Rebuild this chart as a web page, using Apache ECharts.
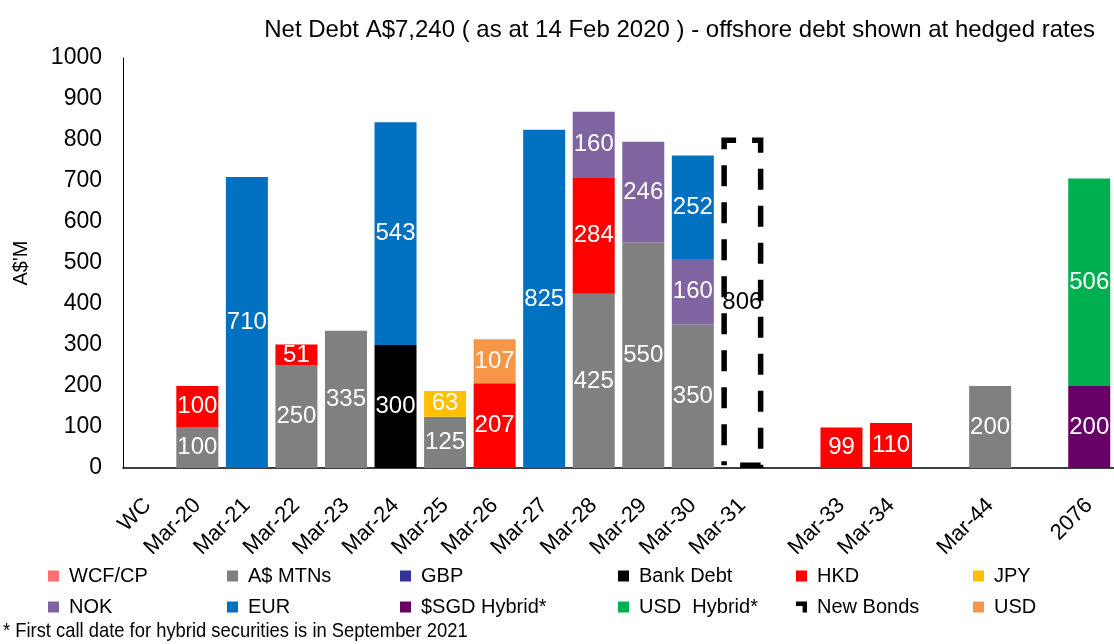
<!DOCTYPE html>
<html lang="en">
<head>
    <meta charset="UTF-8"/>
    <title>net debt maturity</title>
    <script src="https://cdn.jsdelivr.net/npm/echarts@6/dist/echarts.min.js"></script>
</head>
<body style="margin:0">
<div id="main" style="width:1114px;height:644px;"></div>
<script type="text/javascript">
    // categories (blank ones are the gaps in the maturity profile)
    var categories = ['WC', 'Mar-20', 'Mar-21', 'Mar-22', 'Mar-23', 'Mar-24', 'Mar-25', 'Mar-26', 'Mar-27', 'Mar-28',
        'Mar-29', 'Mar-30', 'Mar-31', ' ', 'Mar-33', 'Mar-34', '  ', 'Mar-44', '   ', '2076'];
    var yTicks = [0, 100, 200, 300, 400, 500, 600, 700, 800, 900, 1000];

    var _ = null;
    //               WC  M20  M21  M22  M23  M24  M25  M26  M27  M28  M29  M30  M31  -   M33  M34  -   M44  -   2076
    var wcfCp     = [_,  _,   _,   _,   _,   _,   _,   _,   _,   _,   _,   _,   _,   _,  _,   _,   _,  _,   _,  _];
    var mtns      = [_,  100, _,   250, 335, _,   125, _,   _,   425, 550, 350, _,   _,  _,   _,   _,  200, _,  _];
    var gbp       = [_,  _,   _,   _,   _,   _,   _,   _,   _,   _,   _,   _,   _,   _,  _,   _,   _,  _,   _,  _];
    var bankDebt  = [_,  _,   _,   _,   _,   300, _,   _,   _,   _,   _,   _,   _,   _,  _,   _,   _,  _,   _,  _];
    var hkd       = [_,  100, _,   51,  _,   _,   _,   207, _,   284, _,   _,   _,   _,  99,  110, _,  _,   _,  _];
    var jpy       = [_,  _,   _,   _,   _,   _,   63,  _,   _,   _,   _,   _,   _,   _,  _,   _,   _,  _,   _,  _];
    var nok       = [_,  _,   _,   _,   _,   _,   _,   _,   _,   160, 246, 160, _,   _,  _,   _,   _,  _,   _,  _];
    var eur       = [_,  _,   710, _,   _,   543, _,   _,   825, _,   _,   252, _,   _,  _,   _,   _,  _,   _,  _];
    var sgdHybrid = [_,  _,   _,   _,   _,   _,   _,   _,   _,   _,   _,   _,   _,   _,  _,   _,   _,  _,   _,  200];
    var usdHybrid = [_,  _,   _,   _,   _,   _,   _,   _,   _,   _,   _,   _,   _,   _,  _,   _,   _,  _,   _,  506];
    var newBonds  = [_,  _,   _,   _,   _,   _,   _,   _,   _,   _,   _,   _,   806, _,  _,   _,   _,  _,   _,  _];
    var usd       = [_,  _,   _,   _,   _,   _,   _,   107, _,   _,   _,   _,   _,   _,  _,   _,   _,  _,   _,  _];

    var FONT = "'Liberation Sans', Arial, sans-serif";
    var myChart = echarts.init(document.getElementById('main'));

    function bar(name, data, color) {
        return {
            name: name,
            type: 'bar',
            stack: 'debt',
            barWidth: 42,
            data: data,
            itemStyle: {color: color},
            label: {
                show: true,
                position: 'inside',
                color: '#fff',
                fontSize: 24,
                fontFamily: FONT
            }
        };
    }

    // legend laid out in 6 columns of 2 rows
    var cols = [
        {left: 48, items: ['WCF/CP', 'NOK']},
        {left: 227, items: ['A$ MTNs', 'EUR']},
        {left: 400, items: ['GBP', '$SGD Hybrid*']},
        {left: 618, items: ['Bank Debt', 'USD  Hybrid*']},
        {left: 796, items: ['HKD', 'New Bonds']},
        {left: 973, items: ['JPY', 'USD']}
    ];
    var legends = cols.map(function (c) {
        return {
            orient: 'vertical',
            left: c.left,
            top: 566,
            padding: 0,
            itemGap: 11,
            itemWidth: 11,
            itemHeight: 11,
            icon: 'rect',
            selectedMode: false,
            textStyle: {fontSize: 20, color: '#000', fontFamily: FONT, lineHeight: 20, padding: [0, 0, 0, 5]},
            data: c.items.map(function (n) {
                if (n === 'New Bonds') {
                    return {
                        name: n,
                        icon: 'path://M0,0 L10,0 L10,10 L6,10 L6,4 L0,4 Z',
                        itemStyle: {color: '#000', borderWidth: 0}
                    };
                }
                return {name: n};
            })
        };
    });

    // new bonds: dashed outline only
    var newBondsSeries = bar('New Bonds', newBonds, 'rgba(0,0,0,0)');
    newBondsSeries.itemStyle = {
        color: 'rgba(0,0,0,0)',
        borderColor: '#000',
        borderWidth: 5.5,
        borderType: [21, 16],
        borderDashOffset: 21
    };
    newBondsSeries.label.color = '#000';

    var option = {
        animation: false,
        title: {
            text: 'Net Debt A$7,240 ( as at 14 Feb 2020 ) - offshore debt shown at hedged rates',
            right: 14,
            top: 13,
            textStyle: {fontSize: 24, fontWeight: 'normal', color: '#000', fontFamily: FONT}
        },
        legend: legends,
        grid: {left: 123, top: 58, width: 995, bottom: 176},
        xAxis: {
            type: 'category',
            data: categories,
            axisLine: {lineStyle: {color: '#000', width: 1.5}},
            axisTick: {show: false},
            axisLabel: {interval: 0, rotate: 45, fontSize: 22, color: '#000', fontFamily: FONT, margin: 34}
        },
        yAxis: {
            type: 'value',
            min: yTicks[0],
            max: yTicks[yTicks.length - 1],
            interval: 100,
            name: "A$'M",
            nameLocation: 'middle',
            nameGap: 92,
            nameTextStyle: {fontSize: 20, color: '#000', fontFamily: FONT},
            splitLine: {show: false},
            axisLine: {show: true, lineStyle: {color: '#000', width: 1}},
            axisTick: {show: false},
            axisLabel: {
                fontSize: 23, color: '#000', fontFamily: FONT, margin: 21,
                formatter: function (v) { return String(v); }
            }
        },
        graphic: [{
            type: 'text',
            left: 3,
            top: 621,
            scaleX: 0.875,
            style: {
                text: '* First call date for hybrid securities is in September 2021',
                fontSize: 21,
                fill: '#000',
                fontFamily: FONT
            }
        }],
        series: [
            bar('WCF/CP', wcfCp, '#FF6F6F'),
            bar('A$ MTNs', mtns, '#808080'),
            bar('GBP', gbp, '#333399'),
            bar('Bank Debt', bankDebt, '#000000'),
            bar('HKD', hkd, '#FF0000'),
            bar('JPY', jpy, '#FFC000'),
            bar('NOK', nok, '#8064A2'),
            bar('EUR', eur, '#0070C0'),
            bar('$SGD Hybrid*', sgdHybrid, '#660066'),
            bar('USD  Hybrid*', usdHybrid, '#00B050'),
            newBondsSeries,
            bar('USD', usd, '#F79646')
        ]
    };

    myChart.setOption(option);
</script>
</body>
</html>
